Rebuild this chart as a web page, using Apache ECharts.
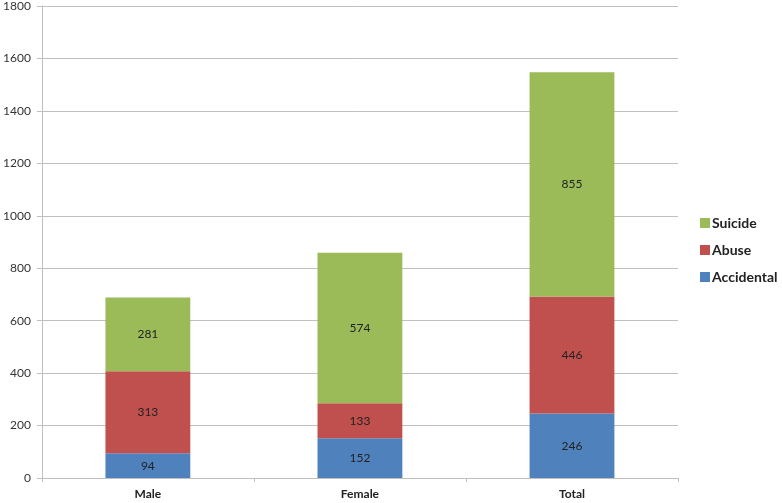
<!DOCTYPE html>
<html><head><meta charset="utf-8">
<script src="https://cdn.jsdelivr.net/npm/echarts@6/dist/echarts.min.js"></script>
<style>html,body{margin:0;padding:0;background:#fff}#c{width:782px;height:503px}</style>
</head><body><div id="c"></div>
<script>
var categories = ['Male', 'Female', 'Total'];
var accidental = [94, 152, 246];
var abuse = [313, 133, 446];
var suicide = [281, 574, 855];
var legendOrder = ['Suicide', 'Abuse', 'Accidental'];

var chart = echarts.init(document.getElementById('c'));
var lbl = {show: true, position: 'inside', color: '#222', fontSize: 12, fontFamily: 'Lato'};
chart.setOption({
  animation: false,
  textStyle: {fontFamily: 'Lato'},
  grid: {left: 40, right: 104, top: 5, bottom: 25, containLabel: false},
  legend: {
    data: legendOrder, orient: 'vertical', left: 700, top: 216, padding: 0,
    itemWidth: 10, itemHeight: 10, itemGap: 13, icon: 'rect',
    textStyle: {fontSize: 14, fontWeight: 'bold', color: '#222', fontFamily: 'Lato', padding: [0, 0, 0, -3]}
  },
  xAxis: {
    type: 'category', data: categories,
    axisLine: {lineStyle: {color: '#bfbfbf'}},
    axisTick: {show: true, length: 4, lineStyle: {color: '#bfbfbf'}},
    axisLabel: {fontWeight: 'bold', fontSize: 12, color: '#222', margin: 10}
  },
  yAxis: {
    type: 'value', min: 0, max: 1800, interval: 200,
    axisLine: {show: true, lineStyle: {color: '#bfbfbf'}},
    axisTick: {show: true, length: 5, lineStyle: {color: '#bfbfbf'}},
    splitLine: {lineStyle: {color: '#c0c0c0'}},
    axisLabel: {fontSize: 12, color: '#333', margin: 11, formatter: function (v) { return String(v); }}
  },
  series: [
    {name: 'Accidental', type: 'bar', stack: 's', data: accidental, barWidth: '40%', itemStyle: {color: '#4f81bd'}, label: lbl},
    {name: 'Abuse', type: 'bar', stack: 's', data: abuse, itemStyle: {color: '#c0504d'}, label: lbl},
    {name: 'Suicide', type: 'bar', stack: 's', data: suicide, itemStyle: {color: '#9bbb59'}, label: lbl}
  ]
});
</script></body></html>
